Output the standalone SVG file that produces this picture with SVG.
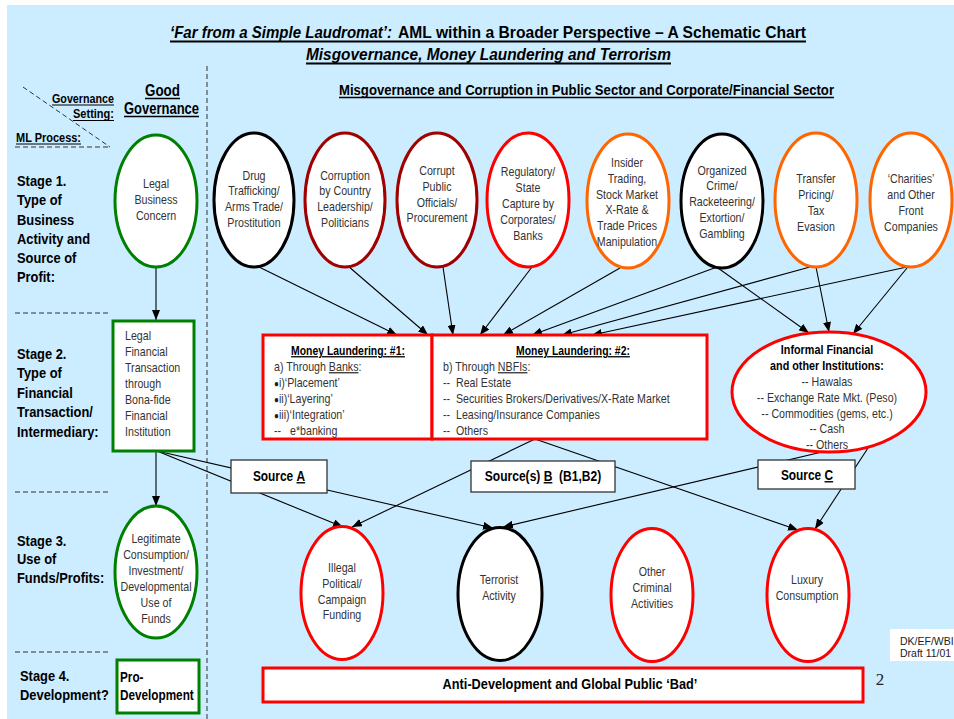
<svg xmlns="http://www.w3.org/2000/svg" width="954" height="719" viewBox="0 0 954 719">
<defs>
<marker id="ah" markerWidth="10" markerHeight="8" refX="10" refY="4" orient="auto" markerUnits="userSpaceOnUse"><path d="M0,0 L10,4 L0,8 z" fill="#000"/></marker>
<style>
text{font-family:"Liberation Sans",Arial,sans-serif;}
text.serif{font-family:"Liberation Serif","Times New Roman",serif;}
.b{font-weight:bold;fill:#000}
.r{fill:#333;font-size:13px}
.st{font-weight:bold;fill:#000;font-size:15px}
.el{fill:#fff;stroke-width:3}
.blk{stroke:#000}
.dred{stroke:#A00000}
.red{stroke:#FF0000}
.org{stroke:#FF6600}
.grn{stroke:#008000}
.box{fill:#fff;stroke-width:3}
.src{fill:#fff;stroke:#333;stroke-width:1.3}
.conn line{stroke:#000;stroke-width:1.1;marker-end:url(#ah)}
.dash{stroke:#333;stroke-width:1;stroke-dasharray:5,3;fill:none}
.ul{stroke:#000;fill:none}
.u{text-decoration:underline}
.bul{font-size:10px;fill:#222}
</style>
</defs>
<rect x="7" y="5" width="947" height="714" fill="#CCECFF"/>

<!-- Titles -->
<g id="title">
<text class="b" x="170" y="38" font-size="17" font-style="italic" textLength="222" lengthAdjust="spacingAndGlyphs">‘Far from a Simple Laudromat’:</text>
<text class="b" x="398" y="38" font-size="17" textLength="408" lengthAdjust="spacingAndGlyphs">AML within a Broader Perspective – A Schematic Chart</text>
<line class="ul" x1="170" y1="41.5" x2="806" y2="41.5" stroke-width="2"/>
<text class="b" x="306" y="60" font-size="17" font-style="italic" textLength="365" lengthAdjust="spacingAndGlyphs">Misgovernance, Money Laundering and Terrorism</text>
<line class="ul" x1="306" y1="63.5" x2="671" y2="63.5" stroke-width="2"/>
<text class="b" x="339" y="95" font-size="15" textLength="495" lengthAdjust="spacingAndGlyphs">Misgovernance and Corruption in Public Sector and Corporate/Financial Sector</text>
<line class="ul" x1="339" y1="97.5" x2="834" y2="97.5" stroke-width="1.5"/>
<text class="b" x="145" y="96" font-size="16" textLength="35" lengthAdjust="spacingAndGlyphs">Good</text>
<line class="ul" x1="145" y1="98.5" x2="180" y2="98.5" stroke-width="1.5"/>
<text class="b" x="124" y="114" font-size="16" textLength="75" lengthAdjust="spacingAndGlyphs">Governance</text>
<line class="ul" x1="124" y1="116.5" x2="199" y2="116.5" stroke-width="1.5"/>
<text class="b" x="52" y="103" font-size="12" textLength="62" lengthAdjust="spacingAndGlyphs">Governance</text>
<line class="ul" x1="52" y1="105" x2="114" y2="105" stroke-width="1.2"/>
<text class="b" x="73" y="118" font-size="12" textLength="41" lengthAdjust="spacingAndGlyphs">Setting:</text>
<line class="ul" x1="73" y1="120.5" x2="114" y2="120.5" stroke-width="1.2"/>
<text class="b" x="16" y="142" font-size="12" textLength="65" lengthAdjust="spacingAndGlyphs">ML Process:</text>
<line class="ul" x1="16" y1="144" x2="81" y2="144" stroke-width="1.2"/>
</g>

<!-- Dashed guide lines -->
<g id="guides">
<line class="dash" x1="207" y1="66" x2="207" y2="719"/>
<line class="dash" x1="23" y1="87" x2="110" y2="147"/>
<line class="dash" x1="15" y1="147" x2="110" y2="147"/>
<line class="dash" x1="15" y1="313" x2="110" y2="313"/>
<line class="dash" x1="15" y1="492" x2="110" y2="492"/>
<line class="dash" x1="15" y1="652" x2="110" y2="652"/>
</g>

<!-- Stage labels -->
<g id="stages">
<text class="st" transform="translate(17,186) scale(0.86,1)"><tspan x="0">Stage 1.</tspan><tspan x="0" dy="19.3">Type of</tspan><tspan x="0" dy="19.3">Business</tspan><tspan x="0" dy="19.3">Activity and</tspan><tspan x="0" dy="19.3">Source of</tspan><tspan x="0" dy="19.3">Profit:</tspan></text>
<text class="st" transform="translate(17,359) scale(0.86,1)"><tspan x="0">Stage 2.</tspan><tspan x="0" dy="19.5">Type of</tspan><tspan x="0" dy="19.5">Financial</tspan><tspan x="0" dy="19.5">Transaction/</tspan><tspan x="0" dy="19.5">Intermediary:</tspan></text>
<text class="st" transform="translate(17,546) scale(0.86,1)"><tspan x="0">Stage 3.</tspan><tspan x="0" dy="18.5">Use of</tspan><tspan x="0" dy="18.5">Funds/Profits:</tspan></text>
<text class="st" transform="translate(20,681) scale(0.86,1)"><tspan x="0">Stage 4.</tspan><tspan x="0" dy="19">Development?</tspan></text>
</g>

<!-- Connectors -->
<g id="connectors" class="conn">
<line x1="255" y1="265" x2="397" y2="335"/>
<line x1="348" y1="266" x2="428" y2="335"/>
<line x1="443" y1="267" x2="453" y2="335"/>
<line x1="532" y1="267" x2="480" y2="335"/>
<line x1="620" y1="268" x2="503" y2="335"/>
<line x1="717" y1="267" x2="532" y2="335"/>
<line x1="810" y1="267" x2="562" y2="335"/>
<line x1="907" y1="267" x2="592" y2="335"/>
<line x1="718" y1="268" x2="809" y2="333"/>
<line x1="816" y1="267" x2="829" y2="332"/>
<line x1="907" y1="268" x2="853" y2="334"/>
<line x1="156" y1="267" x2="156" y2="320"/>
<line x1="156" y1="451" x2="156" y2="506"/>
<line x1="157" y1="451" x2="343" y2="527"/>
<line x1="157" y1="451" x2="493" y2="528"/>
<line x1="535" y1="439" x2="352" y2="527"/>
<line x1="535" y1="439" x2="798" y2="530"/>
<line x1="822" y1="452" x2="503" y2="527"/>
<line x1="868" y1="448" x2="815" y2="529"/>
</g>

<!-- Good governance column -->
<g id="legal-business">
<ellipse class="el grn" cx="156" cy="201" rx="41" ry="66"/>
<text class="r" text-anchor="middle" transform="translate(156,188) scale(0.82,1)"><tspan x="0">Legal</tspan><tspan x="0" dy="16">Business</tspan><tspan x="0" dy="16">Concern</tspan></text>
</g>
<g id="legal-financial">
<rect class="box grn" x="113" y="321" width="81" height="130"/>
<text class="r" transform="translate(125,339.5) scale(0.82,1)"><tspan x="0">Legal</tspan><tspan x="0" dy="16.1">Financial</tspan><tspan x="0" dy="16.1">Transaction</tspan><tspan x="0" dy="16.1">through</tspan><tspan x="0" dy="16.1">Bona-fide</tspan><tspan x="0" dy="16.1">Financial</tspan><tspan x="0" dy="16.1">Institution</tspan></text>
</g>
<g id="legitimate-use">
<ellipse class="el grn" cx="156" cy="572" rx="41" ry="66"/>
<text class="r" text-anchor="middle" transform="translate(156,543.3) scale(0.82,1)"><tspan x="0">Legitimate</tspan><tspan x="0" dy="16">Consumption/</tspan><tspan x="0" dy="16">Investment/</tspan><tspan x="0" dy="16">Developmental</tspan><tspan x="0" dy="16">Use of</tspan><tspan x="0" dy="16">Funds</tspan></text>
</g>
<g id="pro-development">
<rect class="box grn" x="117" y="660" width="82" height="53"/>
<text class="b" font-size="14" transform="translate(120,682) scale(0.84,1)"><tspan x="0">Pro-</tspan><tspan x="0" dy="18">Development</tspan></text>
</g>

<!-- Stage 1 sources -->
<g id="drug">
<ellipse class="el blk" cx="254" cy="200" rx="40" ry="67"/>
<text class="r" text-anchor="middle" transform="translate(254,179.5) scale(0.82,1)"><tspan x="0">Drug</tspan><tspan x="0" dy="15.8">Trafficking/</tspan><tspan x="0" dy="15.8">Arms Trade/</tspan><tspan x="0" dy="15.8">Prostitution</tspan></text>
</g>
<g id="corruption-leadership">
<ellipse class="el dred" cx="345" cy="200" rx="40" ry="67"/>
<text class="r" text-anchor="middle" transform="translate(345,179.5) scale(0.82,1)"><tspan x="0">Corruption</tspan><tspan x="0" dy="15.8">by Country</tspan><tspan x="0" dy="15.8">Leadership/</tspan><tspan x="0" dy="15.8">Politicians</tspan></text>
</g>
<g id="corrupt-officials">
<ellipse class="el dred" cx="437" cy="200" rx="40" ry="67"/>
<text class="r" text-anchor="middle" transform="translate(437,175) scale(0.82,1)"><tspan x="0">Corrupt</tspan><tspan x="0" dy="15.8">Public</tspan><tspan x="0" dy="15.8">Officials/</tspan><tspan x="0" dy="15.8">Procurement</tspan></text>
</g>
<g id="regulatory-capture">
<ellipse class="el red" cx="528" cy="200" rx="41" ry="67"/>
<text class="r" text-anchor="middle" transform="translate(528,176) scale(0.82,1)"><tspan x="0">Regulatory/</tspan><tspan x="0" dy="16">State</tspan><tspan x="0" dy="16">Capture by</tspan><tspan x="0" dy="16">Corporates/</tspan><tspan x="0" dy="16">Banks</tspan></text>
</g>
<g id="insider-trading">
<ellipse class="el org" cx="628" cy="201" rx="41" ry="67"/>
<text class="r" text-anchor="middle" transform="translate(627,167) scale(0.82,1)"><tspan x="0">Insider</tspan><tspan x="0" dy="15.8">Trading,</tspan><tspan x="0" dy="15.8">Stock Market</tspan><tspan x="0" dy="15.8">X-Rate &amp;</tspan><tspan x="0" dy="15.8">Trade Prices</tspan><tspan x="0" dy="15.8">Manipulation</tspan></text>
</g>
<g id="organized-crime">
<ellipse class="el blk" cx="722" cy="201" rx="41" ry="67"/>
<text class="r" text-anchor="middle" transform="translate(722,174.5) scale(0.82,1)"><tspan x="0">Organized</tspan><tspan x="0" dy="15.8">Crime/</tspan><tspan x="0" dy="15.8">Racketeering/</tspan><tspan x="0" dy="15.8">Extortion/</tspan><tspan x="0" dy="15.8">Gambling</tspan></text>
</g>
<g id="transfer-pricing">
<ellipse class="el org" cx="816" cy="200" rx="41" ry="67"/>
<text class="r" text-anchor="middle" transform="translate(816,182.7) scale(0.82,1)"><tspan x="0">Transfer</tspan><tspan x="0" dy="16">Pricing/</tspan><tspan x="0" dy="16">Tax</tspan><tspan x="0" dy="16">Evasion</tspan></text>
</g>
<g id="charities">
<ellipse class="el org" cx="911" cy="200" rx="41" ry="67"/>
<text class="r" text-anchor="middle" transform="translate(911,182.7) scale(0.82,1)"><tspan x="0">‘Charities’</tspan><tspan x="0" dy="16">and Other</tspan><tspan x="0" dy="16">Front</tspan><tspan x="0" dy="16">Companies</tspan></text>
</g>

<!-- Stage 2 -->
<g id="ml1">
<rect class="box red" x="263" y="335" width="169" height="104"/>
<text class="b u" font-size="13" text-anchor="middle" transform="translate(348,355) scale(0.8,1)">Money Laundering: #1:</text>
<text class="r" transform="translate(274,371) scale(0.82,1)"><tspan x="0">a) Through <tspan class="u">Banks</tspan>:</tspan><tspan x="0" dy="16"><tspan class="bul">●</tspan>i)‘Placement’</tspan><tspan x="0" dy="16"><tspan class="bul">●</tspan>ii)‘Layering’</tspan><tspan x="0" dy="16"><tspan class="bul">●</tspan>iii)‘Integration’</tspan><tspan x="0" dy="16">--&#160;&#160; e*banking</tspan></text>
</g>
<g id="ml2">
<rect class="box red" x="432" y="335" width="275" height="104"/>
<text class="b u" font-size="13" text-anchor="middle" transform="translate(573,355) scale(0.8,1)">Money Laundering: #2:</text>
<text class="r" transform="translate(443,371) scale(0.82,1)"><tspan x="0">b) Through <tspan class="u">NBFIs</tspan>:</tspan><tspan x="0" dy="16">--&#160; Real Estate</tspan><tspan x="0" dy="16">--&#160; Securities Brokers/Derivatives/X-Rate Market</tspan><tspan x="0" dy="16">--&#160; Leasing/Insurance Companies</tspan><tspan x="0" dy="16">--&#160; Others</tspan></text>
</g>
<g id="informal">
<ellipse class="el red" cx="829" cy="392" rx="97" ry="60"/>
<text class="b" font-size="13" text-anchor="middle" transform="translate(827,354.3) scale(0.83,1)"><tspan x="0">Informal Financial</tspan><tspan x="0" dy="15.8">and other Institutions:</tspan></text>
<text class="r" text-anchor="middle" transform="translate(827,386) scale(0.82,1)"><tspan x="0">-- Hawalas</tspan><tspan x="0" dy="15.8">-- Exchange Rate Mkt. (Peso)</tspan><tspan x="0" dy="15.8">-- Commodities (gems, etc.)</tspan><tspan x="0" dy="15.8">-- Cash</tspan><tspan x="0" dy="15.8">-- Others</tspan></text>
</g>

<!-- Sources -->
<g id="source-a">
<rect class="src" x="231" y="460" width="96" height="33"/>
<text class="b" font-size="14" text-anchor="middle" transform="translate(279,481) scale(0.85,1)">Source <tspan class="u">A</tspan></text>
</g>
<g id="source-b">
<rect class="src" x="471" y="461" width="144" height="31"/>
<text class="b" font-size="14" text-anchor="middle" transform="translate(543,481) scale(0.86,1)">Source(s) <tspan class="u">B</tspan>&#160; (B1,B2)</text>
</g>
<g id="source-c">
<rect class="src" x="758" y="460" width="97" height="29"/>
<text class="b" font-size="14" text-anchor="middle" transform="translate(807,480) scale(0.85,1)">Source <tspan class="u">C</tspan></text>
</g>

<!-- Stage 3 misuse -->
<g id="illegal-political">
<ellipse class="el red" cx="342" cy="593" rx="41" ry="66.5"/>
<text class="r" text-anchor="middle" transform="translate(342,572) scale(0.82,1)"><tspan x="0">Illegal</tspan><tspan x="0" dy="15.8">Political/</tspan><tspan x="0" dy="15.8">Campaign</tspan><tspan x="0" dy="15.8">Funding</tspan></text>
</g>
<g id="terrorist">
<ellipse class="el blk" cx="500" cy="594" rx="42" ry="66.5"/>
<text class="r" text-anchor="middle" transform="translate(499,584.3) scale(0.82,1)"><tspan x="0">Terrorist</tspan><tspan x="0" dy="16">Activity</tspan></text>
</g>
<g id="other-criminal">
<ellipse class="el red" cx="652" cy="595" rx="41" ry="66.5"/>
<text class="r" text-anchor="middle" transform="translate(652,576) scale(0.82,1)"><tspan x="0">Other</tspan><tspan x="0" dy="15.8">Criminal</tspan><tspan x="0" dy="15.8">Activities</tspan></text>
</g>
<g id="luxury">
<ellipse class="el red" cx="808" cy="595" rx="41" ry="66.5"/>
<text class="r" text-anchor="middle" transform="translate(807,584.3) scale(0.82,1)"><tspan x="0">Luxury</tspan><tspan x="0" dy="16">Consumption</tspan></text>
</g>

<!-- Stage 4 -->
<g id="anti-development">
<rect class="box red" x="263" y="668" width="600" height="34"/>
<text class="b" font-size="15" text-anchor="middle" transform="translate(570,689) scale(0.85,1)">Anti-Development and Global Public ‘Bad’</text>
</g>

<text class="serif" x="880" y="685" font-size="17" fill="#222" text-anchor="middle">2</text>
<rect x="890" y="629" width="64" height="32" fill="#fff"/>
<text x="900" y="645" font-size="10.5" fill="#222">DK/EF/WBI</text>
<text x="900" y="657" font-size="10.5" fill="#222">Draft 11/01</text>
</svg>
